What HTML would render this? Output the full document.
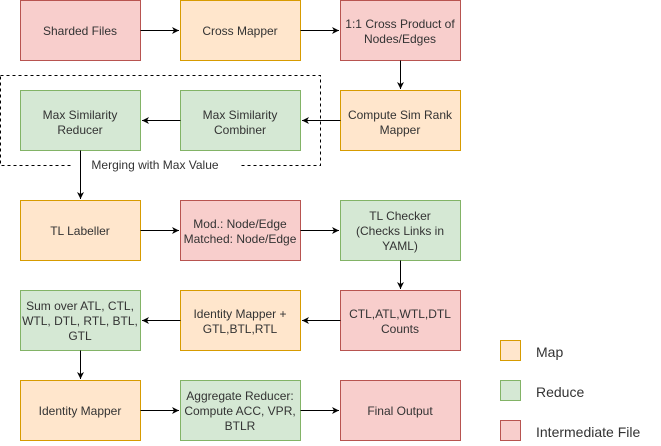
<!DOCTYPE html>
<html><head><style>body{margin:0;background:#fff}svg{display:block}text{font-family:"Liberation Sans",Arial,sans-serif;font-size:12px;fill:#333}.lg{font-size:14px}</style></head><body>
<svg width="661" height="446" viewBox="0 0 661 446" xmlns="http://www.w3.org/2000/svg">
<defs><marker id="a" markerWidth="8" markerHeight="8" refX="7" refY="4" orient="auto" markerUnits="userSpaceOnUse"><path d="M0,0.5 L7,4 L0,7.5 L2,4 Z" fill="#000"/></marker></defs>
<rect x="0.5" y="75.5" width="320" height="90" fill="none" stroke="#000" stroke-dasharray="3,3"/>
<rect x="72" y="158" width="168" height="14" fill="#fff"/>
<text x="155" y="169" text-anchor="middle">Merging with Max Value</text>
<g stroke-width="1">
<rect x="20.5" y="0.5" width="120" height="60" fill="#f8cecc" stroke="#b85450"/>
<rect x="180.5" y="0.5" width="120" height="60" fill="#ffe6cc" stroke="#d79b00"/>
<rect x="340.5" y="0.5" width="120" height="60" fill="#f8cecc" stroke="#b85450"/>
<rect x="20.5" y="90.5" width="120" height="60" fill="#d5e8d4" stroke="#82b366"/>
<rect x="180.5" y="90.5" width="120" height="60" fill="#d5e8d4" stroke="#82b366"/>
<rect x="340.5" y="90.5" width="120" height="60" fill="#ffe6cc" stroke="#d79b00"/>
<rect x="20.5" y="200.5" width="120" height="60" fill="#ffe6cc" stroke="#d79b00"/>
<rect x="180.5" y="200.5" width="120" height="60" fill="#f8cecc" stroke="#b85450"/>
<rect x="340.5" y="200.5" width="120" height="60" fill="#d5e8d4" stroke="#82b366"/>
<rect x="20.5" y="290.5" width="120" height="60" fill="#d5e8d4" stroke="#82b366"/>
<rect x="180.5" y="290.5" width="120" height="60" fill="#ffe6cc" stroke="#d79b00"/>
<rect x="340.5" y="290.5" width="120" height="60" fill="#f8cecc" stroke="#b85450"/>
<rect x="20.5" y="380.5" width="120" height="60" fill="#ffe6cc" stroke="#d79b00"/>
<rect x="180.5" y="380.5" width="120" height="60" fill="#d5e8d4" stroke="#82b366"/>
<rect x="340.5" y="380.5" width="120" height="60" fill="#f8cecc" stroke="#b85450"/>
<rect x="500.5" y="340.5" width="20" height="20" fill="#ffe6cc" stroke="#d79b00"/>
<rect x="500.5" y="380.5" width="20" height="20" fill="#d5e8d4" stroke="#82b366"/>
<rect x="500.5" y="420.5" width="20" height="20" fill="#f8cecc" stroke="#b85450"/>
</g>
<g stroke="#000" fill="none" marker-end="url(#a)">
<path d="M140.5 30.5H179"/><path d="M300.5 30.5H339"/>
<path d="M400.5 60.5V89"/>
<path d="M340.5 120.5H302"/><path d="M180.5 120.5H142"/>
<path d="M80.5 150.5V199"/>
<path d="M140.5 230.5H179"/><path d="M300.5 230.5H339"/>
<path d="M400.5 260.5V289"/>
<path d="M340.5 320.5H302"/><path d="M180.5 320.5H142"/>
<path d="M80.5 350.5V379"/>
<path d="M140.5 410.5H179"/><path d="M300.5 410.5H339"/>
</g>
<g text-anchor="middle">
<text x="80" y="35">Sharded Files</text>
<text x="240" y="35">Cross Mapper</text>
<text x="400" y="28">1:1 Cross Product of</text><text x="400" y="43">Nodes/Edges</text>
<text x="80" y="119">Max Similarity</text><text x="80" y="134">Reducer</text>
<text x="240" y="119">Max Similarity</text><text x="240" y="134">Combiner</text>
<text x="400" y="119">Compute Sim Rank</text><text x="400" y="134">Mapper</text>
<text x="80" y="235">TL Labeller</text>
<text x="240" y="228">Mod.: Node/Edge</text><text x="240" y="243">Matched: Node/Edge</text>
<text x="400" y="220">TL Checker</text><text x="400" y="235">(Checks Links in</text><text x="400" y="250">YAML)</text>
<text x="80" y="310">Sum over ATL, CTL,</text><text x="80" y="325">WTL, DTL, RTL, BTL,</text><text x="80" y="340">GTL</text>
<text x="240" y="318">Identity Mapper +</text><text x="240" y="333">GTL,BTL,RTL</text>
<text x="400" y="318">CTL,ATL,WTL,DTL</text><text x="400" y="333">Counts</text>
<text x="80" y="415">Identity Mapper</text>
<text x="240" y="400">Aggregate Reducer:</text><text x="240" y="415">Compute ACC, VPR,</text><text x="240" y="430">BTLR</text>
<text x="400" y="415">Final Output</text>
</g>
<text class="lg" x="536" y="357">Map</text>
<text class="lg" x="536" y="397">Reduce</text>
<text class="lg" x="536" y="437">Intermediate File</text>
</svg>
</body></html>
